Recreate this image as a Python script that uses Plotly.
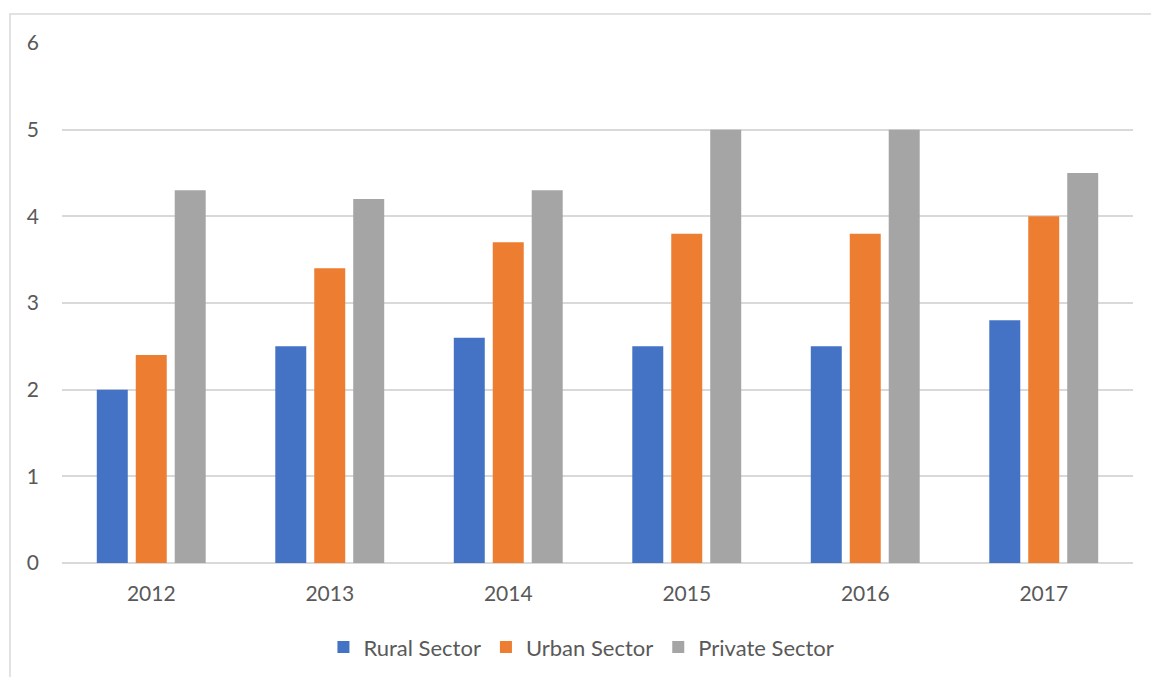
import plotly.graph_objects as go

years = ["2012", "2013", "2014", "2015", "2016", "2017"]
rural = [2.0, 2.5, 2.6, 2.5, 2.5, 2.8]
urban = [2.4, 3.4, 3.7, 3.8, 3.8, 4.0]
private = [4.3, 4.2, 4.3, 5.0, 5.0, 4.5]

series = [
    ("Rural Sector", rural, "#4472C4"),
    ("Urban Sector", urban, "#ED7D31"),
    ("Private Sector", private, "#A5A5A5"),
]

fig = go.Figure()
for name, vals, color in series:
    fig.add_trace(go.Bar(x=years, y=vals, name=name, marker_color=color,
                         marker_line_width=0))

grid = "#D9D9D9"
text_color = "#595959"
font_family = "Lato, 'Open Sans', sans-serif"

fig.update_layout(
    width=1151, height=677,
    margin=dict(l=62, r=18, t=43, b=114, autoexpand=False),
    paper_bgcolor="white", plot_bgcolor="white",
    barmode="group", bargap=0.345, bargroupgap=0.205,
    font=dict(family=font_family, size=21, color=text_color),
    showlegend=True,
    legend=dict(orientation="h", x=0.485, xanchor="center", y=-0.162, yanchor="middle",
                font=dict(size=22, color=text_color), itemwidth=30,
                traceorder="normal"),
    xaxis=dict(showgrid=False, showline=False, ticks="", ticklabelstandoff=16,
               automargin=False, tickfont=dict(size=21, color=text_color)),
    yaxis=dict(range=[0, 6], dtick=1, showgrid=True, gridcolor=grid, gridwidth=1.5,
               zeroline=True, zerolinecolor=grid, zerolinewidth=1.5,
               showline=False, ticks="", ticklabelstandoff=22, automargin=False,
               tickfont=dict(size=21, color=text_color)),
    shapes=[dict(type="rect", xref="paper", yref="paper",
                 x0=-0.0486, x1=1.2, y0=-0.5, y1=1.0558,
                 line=dict(color=grid, width=1.5), layer="below")],
)

fig.write_html("out.html")
